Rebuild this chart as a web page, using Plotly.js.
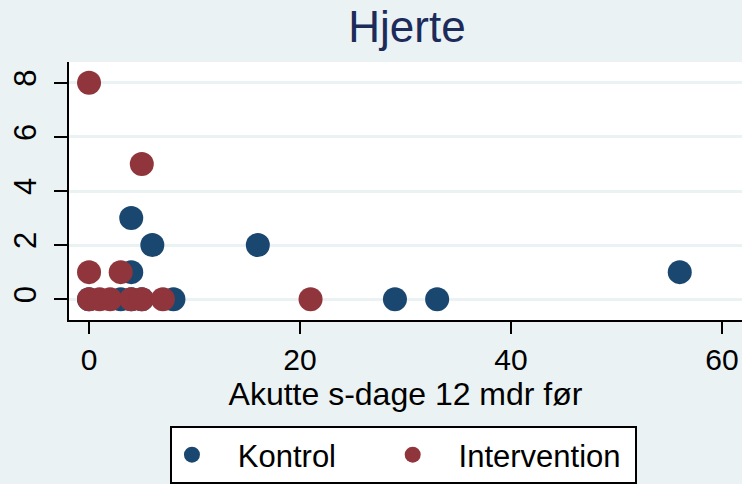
<!DOCTYPE html>
<html>
<head>
<meta charset="utf-8">
<script src="https://cdn.plot.ly/plotly-3.0.1.min.js"></script>
<style>html,body{margin:0;padding:0;background:#EAF2F3;}</style>
</head>
<body>
<div id="chart" style="width:742px;height:484px;"></div>
<script>
// Kontrol series
var kontrolX = [0, 3, 4, 5, 8, 4, 6, 4, 16, 29, 33, 56];
var kontrolY = [0, 0, 0, 0, 0, 1, 2, 3, 2, 0, 0, 1];
// Intervention series
var interventionX = [0, 1, 2, 4, 5, 7, 21, 0, 3, 5, 0];
var interventionY = [0, 0, 0, 0, 0, 0, 0, 1, 1, 5, 8];
var xTicks = [0, 20, 40, 60];
var yTicks = [0, 2, 4, 6, 8];
var seriesNames = ['Kontrol', 'Intervention'];
var titleText = 'Hjerte';
var xTitle = 'Akutte s-dage 12 mdr før';

var font = '"Liberation Sans", Arial, sans-serif';
var sp = function (n) { return '\u00A0'.repeat(n); };

var traces = [
  {x: kontrolX, y: kontrolY, type: 'scatter', mode: 'markers', name: sp(3) + seriesNames[0] + sp(6),
   marker: {color: '#1A476F', size: 24, line: {width: 0}}},
  {x: interventionX, y: interventionY, type: 'scatter', mode: 'markers', name: sp(3) + seriesNames[1] + sp(1),
   marker: {color: '#90353B', size: 24, line: {width: 0}}}
];

var layout = {
  width: 742, height: 484,
  paper_bgcolor: '#EAF2F3', plot_bgcolor: '#FFFFFF',
  margin: {l: 69, r: 0, t: 62, b: 162, pad: 0},
  font: {family: font, color: '#000000', size: 30},
  title: {text: titleText, font: {family: font, size: 44, color: '#1C2B59'},
          xref: 'container', x: 0.5485, xanchor: 'center',
          yref: 'container', y: 0.945, yanchor: 'middle'},
  xaxis: {range: [-1.9, 61.9], tickvals: xTicks, ticktext: xTicks.map(String),
          showgrid: false, zeroline: false, showline: true, linecolor: '#000', linewidth: 2,
          ticks: 'outside', ticklen: 12, tickwidth: 2, tickcolor: '#000',
          tickfont: {size: 30}, title: {text: xTitle, font: {size: 32}, standoff: 2}},
  yaxis: {range: [-0.77, 8.77], tickvals: yTicks, ticktext: yTicks.map(String),
          showgrid: true, gridcolor: '#EAF2F3', gridwidth: 3, zeroline: false,
          showline: true, linecolor: '#000', linewidth: 2,
          ticks: 'outside', ticklen: 13, tickwidth: 2, tickcolor: '#000',
          tickangle: -90, tickfont: {size: 31}, ticklabelstandoff: 6},
  showlegend: true,
  legend: {orientation: 'h', x: 0.150, xanchor: 'left', y: -0.4115, yanchor: 'top',
           bgcolor: '#FFFFFF', bordercolor: '#000', borderwidth: 2,
           font: {size: 31}, traceorder: 'normal'}
};

Plotly.newPlot('chart', traces, layout, {displayModeBar: false, staticPlot: true});
</script>
</body>
</html>
